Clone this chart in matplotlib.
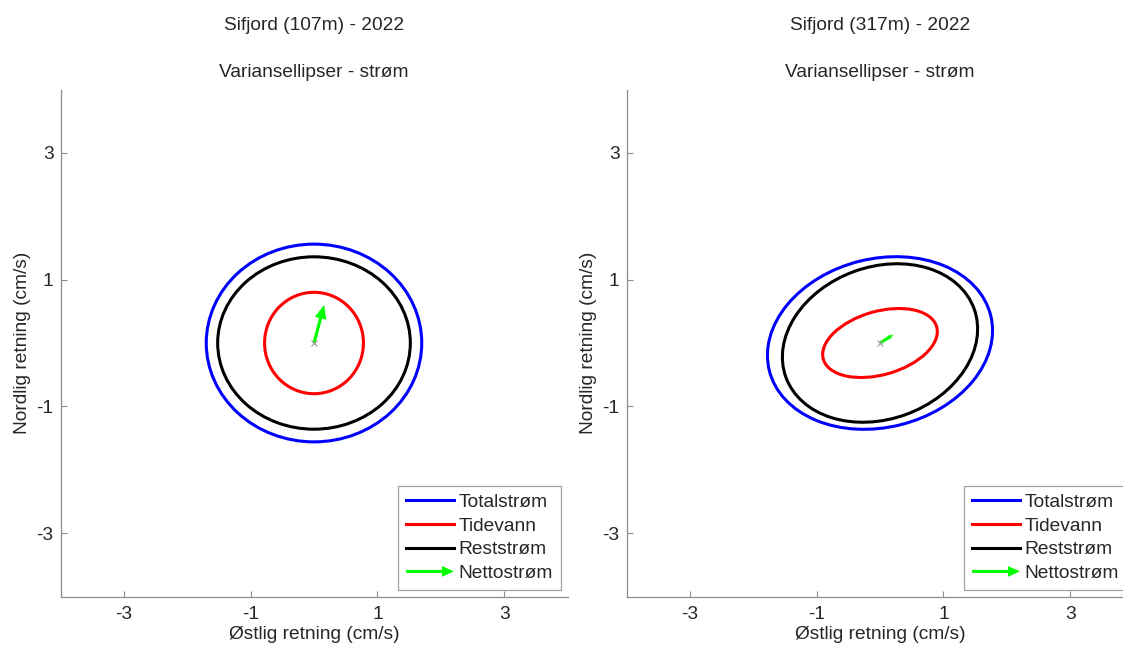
import matplotlib
matplotlib.use('Agg')
import matplotlib.pyplot as plt
from matplotlib.patches import Ellipse, FancyArrow
from matplotlib.lines import Line2D
from matplotlib.legend_handler import HandlerPatch

plt.rcParams['font.family'] = ['Liberation Sans', 'DejaVu Sans']
plt.rcParams['axes.unicode_minus'] = False

# station titles
stations = ['Sifjord (107m) - 2022', 'Sifjord (317m) - 2022']

# ellipse centre (mean current) for each station
centre_x = [0.0, 0.0]
centre_y = [0.0, 0.0]

# variance ellipses: semi-major, semi-minor (cm/s), angle (deg from east)
total_a = [1.70, 1.80]
total_b = [1.56, 1.33]
total_ang = [0.0, 14.0]

tide_a = [0.80, 0.93]
tide_b = [0.78, 0.50]
tide_ang = [90.0, 16.0]

resid_a = [1.52, 1.58]
resid_b = [1.36, 1.20]
resid_ang = [0.0, 20.0]

# net current vector (east, north) in cm/s
net_u = [0.16, 0.21]
net_v = [0.60, 0.13]

ticks = [-3, -1, 1, 3]
lims = (-4, 4)

labels = ['Totalstrøm', 'Tidevann', 'Reststrøm', 'Nettostrøm']
colors = ['#0000ff', '#ff0000', '#000000', '#00ff00']

FS = 13.8
TXT = '#262626'
AX_GREY = '#8c8c8c'


def arrow_handle(legend, orig_handle, xdescent, ydescent, width, height, fontsize):
    return FancyArrow(-xdescent, height / 2 - ydescent, width, 0,
                      width=0.22 * height, head_width=0.8 * height,
                      head_length=0.25 * width, length_includes_head=True,
                      color=colors[3], lw=0)


fig = plt.figure(figsize=(11.23, 6.45), dpi=100)
W, H = 1123.0, 645.0
boxes = [[60.5 / W, 48.5 / H, 507 / W, 507 / H],
         [626.5 / W, 48.5 / H, 507 / W, 507 / H]]

for i in range(2):
    ax = fig.add_axes(boxes[i])
    sets = [(total_a, total_b, total_ang), (tide_a, tide_b, tide_ang),
            (resid_a, resid_b, resid_ang)]
    for k, (a, b, ang) in enumerate(sets):
        ax.add_patch(Ellipse((centre_x[i], centre_y[i]), 2 * a[i], 2 * b[i],
                             angle=ang[i], fill=False, ec=colors[k], lw=2.2))

    # net current arrow, head scaled with the vector length
    L = (net_u[i] ** 2 + net_v[i] ** 2) ** 0.5
    arr = ax.arrow(centre_x[i], centre_y[i], net_u[i], net_v[i],
                   width=0.05, head_width=0.3 * L, head_length=0.35 * L,
                   length_includes_head=True, color=colors[3], lw=0, zorder=4)
    ax.plot(centre_x[i], centre_y[i], 'x', color='#999999', ms=5, mew=0.8, zorder=5)

    ax.set_xlim(*lims)
    ax.set_ylim(*lims)
    ax.set_xticks(ticks)
    ax.set_yticks(ticks)
    ax.tick_params(direction='in', length=4, width=0.8, color=AX_GREY,
                   labelsize=FS, labelcolor=TXT)
    ax.tick_params(axis='x', pad=7)
    ax.tick_params(axis='y', pad=5)
    for s in ['top', 'right']:
        ax.spines[s].set_visible(False)
    for s in ['left', 'bottom']:
        ax.spines[s].set_color(AX_GREY)
        ax.spines[s].set_linewidth(0.9)

    ax.set_xlabel('Østlig retning (cm/s)', fontsize=FS, color=TXT, labelpad=2)
    ax.set_ylabel('Nordlig retning (cm/s)', fontsize=FS, color=TXT, labelpad=4)
    ax.set_title('Variansellipser - strøm', fontsize=FS, color=TXT, pad=9)
    ax.text(0.5, 1.127, stations[i], transform=ax.transAxes, ha='center',
            va='center', fontsize=FS, color=TXT)

    handles = [Line2D([], [], color=c, lw=2.2) for c in colors[:3]] + [arr]
    leg = ax.legend(handles, labels, loc='lower right', fontsize=FS,
                    frameon=True, fancybox=False, framealpha=1,
                    edgecolor='#a0a0a0', borderaxespad=0.35, borderpad=0.4,
                    labelspacing=0.33, handlelength=2.5, handletextpad=0.25,
                    handler_map={FancyArrow: HandlerPatch(patch_func=arrow_handle)})
    leg.get_frame().set_linewidth(0.9)
    for t in leg.get_texts():
        t.set_color(TXT)

fig.savefig('out.png', dpi=100)
